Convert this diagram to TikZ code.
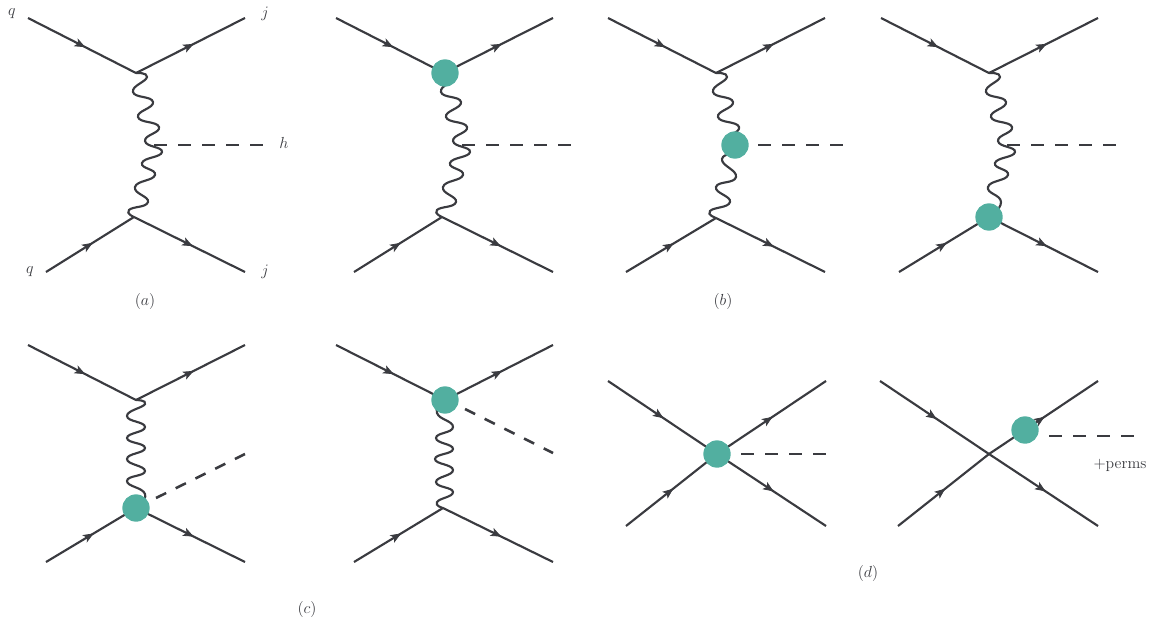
\documentclass[tikz,border=0pt]{standalone}
\usetikzlibrary{arrows.meta,decorations.markings}
\definecolor{ink}{HTML}{3A3B40}
\definecolor{blob}{HTML}{52AFA0}
\tikzset{
 x=0.75pt,y=-0.75pt,
 fermion/.style={draw=ink,line width=1.6pt,postaction={decorate},decoration={markings,mark=at position #1 with {\arrow[ink,line width=0.6pt]{Stealth[length=8pt,width=6.5pt,inset=2pt]}}}},
 fermion/.default=0.53,
 scalar/.style={draw=ink,line width=1.9pt,dash pattern=on #1 off 8pt},
 scalar/.default=10pt,
 photon/.style={draw=ink,line width=1.6pt,line cap=round,smooth,tension=0.9},
 vtx/.style={circle,fill=blob,inner sep=0pt,minimum size=20.5pt},
 lbl/.style={text=ink,inner sep=0pt,font=\fontsize{11.8}{14}\selectfont}
}
\newcommand{\wavetop}{(136,73) (147,77) (133,92) (153,102) (138,117) (159,127) (145,141)}
\begin{document}
\begin{tikzpicture}
\useasboundingbox (0,0) rectangle (1151,621);
% (a)
\begin{scope}
\coordinate (a1) at (28,18); \coordinate (a2) at (136,73); \coordinate (a3) at (245,18);
\coordinate (a4) at (46,272); \coordinate (a5) at (134,217); \coordinate (a6) at (245,272);
\coordinate (a7) at (154,145); \coordinate (a8) at (264,145);
\path[fermion] (a1)--(a2); \path[fermion] (a2)--(a3);
\path[fermion] (a4)--(a5); \path[fermion] (a5)--(a6);
\path[scalar] (a7)--(a8);
\draw[photon] plot coordinates {\wavetop (162,152) (142,163) (155,175) (135,187) (148,202) (129,210) (134,217)};
\end{scope}
\node[lbl] (qa) at (12,14) {$q$};
\node[lbl] (ja) at (265,14) {$j$};
\node[lbl] (ha) at (284,143) {$h$};
\node[lbl] (qb) at (30,272) {$q$};
\node[lbl] (jb) at (265,272) {$j$};
\node[lbl] (la) at (145,301) {$(a)$};
% (b) 1
\begin{scope}[xshift=231pt]
\coordinate (b1) at (28,18); \coordinate (b2) at (136,73); \coordinate (b3) at (245,18);
\coordinate (b4) at (46,272); \coordinate (b5) at (134,217); \coordinate (b6) at (245,272);
\coordinate (b7) at (154,145); \coordinate (b8) at (264,145);
\path[fermion] (b1)--(b2); \path[fermion] (b2)--(b3);
\path[fermion] (b4)--(b5); \path[fermion] (b5)--(b6);
\path[scalar] (b7)--(b8);
\draw[photon] plot coordinates {\wavetop (162,152) (142,163) (155,175) (135,187) (148,202) (129,210) (134,217)};
\node[vtx] (bv) at (137,73) {};
\end{scope}
% (b) 2
\begin{scope}[xshift=435pt]
\coordinate (c1) at (28,18); \coordinate (c2) at (136,73); \coordinate (c3) at (245,18);
\coordinate (c4) at (46,272); \coordinate (c5) at (136,218); \coordinate (c6) at (245,272);
\coordinate (c7) at (178,145); \coordinate (c8) at (265,145);
\path[fermion] (c1)--(c2); \path[fermion] (c2)--(c3);
\path[fermion] (c4)--(c5); \path[fermion] (c5)--(c6);
\path[scalar] (c7)--(c8);
\draw[photon] plot coordinates {\wavetop (160,150) (142,159) (156,177) (136,187) (150,202) (130,211) (136,218)};
\node[vtx] (cv) at (155,145) {};
\end{scope}
% (b) 3
\begin{scope}[xshift=639.75pt]
\coordinate (d1) at (28,18); \coordinate (d2) at (136,73); \coordinate (d3) at (245,18);
\coordinate (d4) at (46,272); \coordinate (d5) at (136,217); \coordinate (d6) at (245,272);
\coordinate (d7) at (154,145); \coordinate (d8) at (264,145);
\path[fermion] (d1)--(d2); \path[fermion] (d2)--(d3);
\path[fermion] (d4)--(d5); \path[fermion] (d5)--(d6);
\path[scalar] (d7)--(d8);
\draw[photon] plot coordinates {\wavetop (162,152) (142,163) (155,175) (135,187) (148,202) (136,217)};
\node[vtx] (dv) at (136,217) {};
\end{scope}
\node[lbl] (lb) at (723,301) {$(b)$};
% (c) 1
\coordinate (e1) at (28,345); \coordinate (e2) at (136,400); \coordinate (e3) at (245,345);
\coordinate (e4) at (46,562); \coordinate (e5) at (136,508); \coordinate (e6) at (245,562);
\coordinate (e7) at (156,498); \coordinate (e8) at (245,454);
\path[fermion] (e1)--(e2); \path[fermion] (e2)--(e3);
\path[fermion] (e4)--(e5); \path[fermion] (e5)--(e6);
\path[scalar=8.5pt] (e7)--(e8);
\draw[photon] plot coordinates {(e2) (145,404) (127,416) (145,427) (127,438) (145,448) (127,459) (145,471) (127,481) (145,494) (e5)};
\node[vtx] (ev) at (136,508) {};
\node[lbl] (lc) at (307,609) {$(c)$};
% (c) 2
\coordinate (f1) at (336,345); \coordinate (f2) at (445,400); \coordinate (f3) at (553,345);
\coordinate (f4) at (354,562); \coordinate (f5) at (443,508); \coordinate (f6) at (553,562);
\coordinate (f7) at (465,409); \coordinate (f8) at (553,453);
\path[fermion] (f1)--(f2); \path[fermion] (f2)--(f3);
\path[fermion] (f4)--(f5); \path[fermion] (f5)--(f6);
\path[scalar=8.5pt] (f7)--(f8);
\draw[photon] plot coordinates {(f2) (437,413) (453,427) (436,438) (453,449) (435,459) (453,470) (436,482) (453,492) (437,502) (f5)};
\node[vtx] (fv) at (445,400) {};
% (d) 1
\coordinate (g1) at (608,381); \coordinate (g3) at (826,381);
\coordinate (g4) at (626,526); \coordinate (g6) at (826,526);
\coordinate (g7) at (741,454); \coordinate (g8) at (826,454);
\coordinate (gc) at (717,454);
\path[fermion=0.51] (g1)--(gc); \path[fermion=0.51] (gc)--(g3);
\path[fermion=0.52] (g4)--(gc); \path[fermion=0.52] (gc)--(g6);
\node[vtx] (gv) at (gc) {};
\path[scalar] (g7)--(g8);
% (d) 2
\coordinate (h1) at (880,381); \coordinate (h3) at (1098,381);
\coordinate (h4) at (898,526); \coordinate (h6) at (1098,526);
\coordinate (hc) at (989,454);
\coordinate (h7) at (1049,436); \coordinate (h8) at (1135,436);
\path[fermion=0.52] (h1)--(hc); \path[fermion=0.52] (hc)--(h6);
\path[fermion=0.52] (h4)--(hc); \path[fermion=0.51] (hc)--(h3);
\node[vtx] (hv) at (1025,430) {};
\path[scalar] (h7)--(h8);
\node[lbl] (lp) at (1120,465) {$+$perms};
\node[lbl] (ld) at (868,573) {$(d)$};
\end{tikzpicture}
\end{document}
